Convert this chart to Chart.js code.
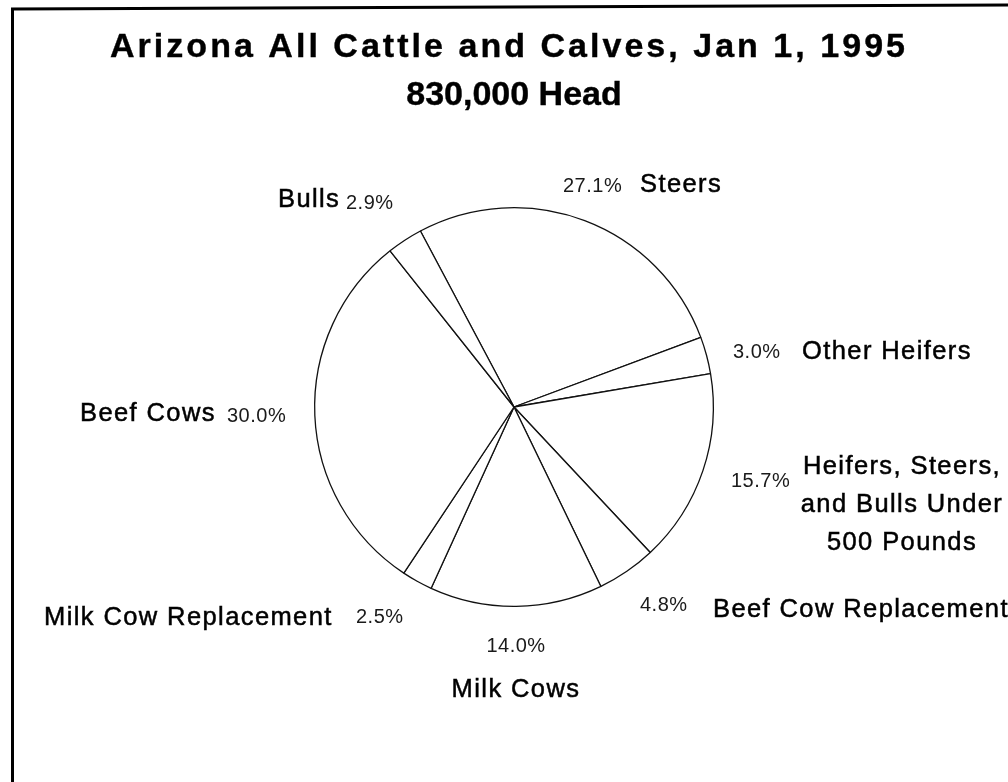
<!DOCTYPE html>
<html>
<head>
<meta charset="utf-8">
<title>Arizona All Cattle and Calves, Jan 1, 1995</title>
<script src="https://cdn.jsdelivr.net/npm/chart.js@4/dist/chart.umd.min.js"></script>
<style>
    html, body { margin: 0; padding: 0; background: #fff; }
    canvas { display: block; }
</style>
</head>
<body>
<canvas id="myChart" width="1008" height="782"></canvas>
<script>
const titleLines = ['Arizona All Cattle and Calves, Jan 1, 1995', '830,000 Head'];

// slices in clockwise order, starting at the Bulls / Steers edge
const labelLines = [
    ['Steers'],
    ['Other Heifers'],
    ['Heifers, Steers,', 'and Bulls Under', '500 Pounds'],
    ['Beef Cow Replacement'],
    ['Milk Cows'],
    ['Milk Cow Replacement'],
    ['Beef Cows'],
    ['Bulls']
];
const categories = labelLines.map((l) => l.join(' '));
const shares = [27.1, 3.0, 15.7, 4.8, 14.0, 2.5, 30.0, 2.9];

// label anchors, offsets from the pie centre
const labelSpots = [
    { name: [126, -222, 'left'],   pct: [49, -221, 'left'] },
    { name: [288, -55, 'left'],    pct: [219, -55, 'left'] },
    { name: [388, 60, 'center'],   pct: [217, 74, 'left'], gap: 38 },
    { name: [199, 203, 'left'],    pct: [126, 198, 'left'] },
    { name: [2, 283, 'center'],    pct: [2, 239, 'center'] },
    { name: [-470, 211, 'left'],   pct: [-158, 210, 'left'] },
    { name: [-434, 7, 'left'],     pct: [-287, 9, 'left'] },
    { name: [-236, -207, 'left'],  pct: [-168, -204, 'left'] }
];

const titleFont = 'bold 34px "Liberation Sans", Arial, sans-serif';
const nameFont  = '25.5px "Liberation Sans", Arial, sans-serif';
const pctFont   = '20px "Liberation Sans", Arial, sans-serif';

const drawText = (ctx, text, x, y, align, font, spacing, stroke) => {
    ctx.font = font;
    ctx.letterSpacing = spacing + 'px';
    ctx.textAlign = align;
    ctx.textBaseline = 'middle';
    ctx.fillText(text, x, y);
    if (stroke) {
        ctx.lineWidth = stroke;
        ctx.strokeText(text, x, y);
    }
};

// spread the letters so a line spans a given width
const fitSpacing = (ctx, text, font, width) => {
    ctx.font = font;
    ctx.letterSpacing = '0px';
    const w = ctx.measureText(text).width;
    return Math.max((width - w) / (text.length - 1), 0);
};

const pieLabels = {
    id: 'pieLabels',
    afterDraw: (chart) => {
        const ctx  = chart.ctx;
        const arcs = chart.getDatasetMeta(0).data;
        const cx   = arcs[0].x;
        const cy   = arcs[0].y;

        ctx.save();
        ctx.fillStyle = '#000';
        ctx.strokeStyle = '#000';

        // frame
        ctx.lineWidth = 3;
        ctx.beginPath();
        ctx.moveTo(12.5, 782);
        ctx.lineTo(12.5, 9);
        ctx.lineTo(1008, 5);
        ctx.stroke();

        drawText(ctx, titleLines[0], 509, 48, 'center', titleFont,
            fitSpacing(ctx, titleLines[0], titleFont, 795), 0.4);
        drawText(ctx, titleLines[1], 514, 96, 'center', titleFont,
            fitSpacing(ctx, titleLines[1], titleFont, 212), 0.4);

        labelLines.forEach((lines, i) => {
            const spot = labelSpots[i];
            const gap  = spot.gap || 0;
            ctx.fillStyle = '#000';
            ctx.strokeStyle = '#000';
            lines.forEach((line, j) => {
                drawText(ctx, line, cx + spot.name[0], cy + spot.name[1] + j * gap, spot.name[2],
                    nameFont, 1.4, 0.5);
            });
            ctx.fillStyle = '#1a1a1a';
            drawText(ctx, shares[i].toFixed(1) + '%', cx + spot.pct[0], cy + spot.pct[1], spot.pct[2],
                pctFont, 0.5, 0);
        });
        ctx.restore();
    }
};

const ctx = document.getElementById('myChart');

new Chart(ctx, {
    type: 'pie',
    data: {
        labels: categories,
        datasets: [{
            data: shares,
            backgroundColor: '#fff',
            borderColor: '#111',
            borderWidth: 1.3,
            offset: 0,
            hoverOffset: 0
        }]
    },
    options: {
        responsive: false,
        animation: false,
        events: [],
        rotation: -28,
        layout: {
            padding: { left: 314, right: 294, top: 207, bottom: 175 }
        },
        plugins: {
            legend: { display: false },
            tooltip: { enabled: false },
            title: { display: false }
        }
    },
    plugins: [pieLabels]
});
</script>
</body>
</html>
